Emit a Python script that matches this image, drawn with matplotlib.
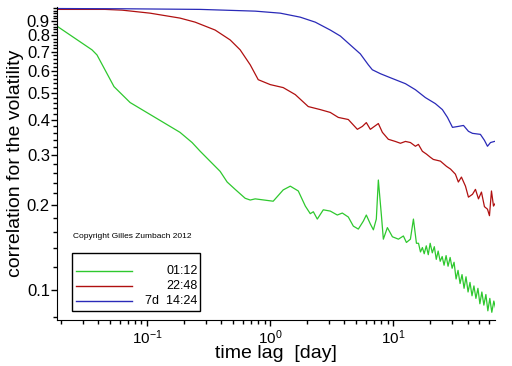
import numpy as np
import matplotlib
matplotlib.use("Agg")
import matplotlib.pyplot as plt
from matplotlib.ticker import FixedLocator, NullFormatter, LogLocator, FixedFormatter
from matplotlib.patches import Rectangle

plt.rcParams['font.family'] = ['Liberation Sans', 'DejaVu Sans']
plt.rcParams['mathtext.fontset'] = 'custom'
plt.rcParams['mathtext.rm'] = 'Liberation Sans'
plt.rcParams['mathtext.it'] = 'Liberation Sans'

# time lag in days / correlation
lag_green = [0.0185, 0.0357, 0.0392, 0.0539, 0.0728, 0.116, 0.185, 0.232, 0.270, 0.392,
             0.447, 0.519, 0.626, 0.688, 0.755, 1.057, 1.275, 1.455, 1.690, 1.927,
             2.114, 2.239, 2.411, 2.697, 3.075, 3.505, 3.849, 4.306, 4.731, 5.193,
             5.702, 6.03, 6.50, 6.88, 7.27, 7.55, 7.99, 8.29, 8.94, 9.82,
             10.99, 12.06, 12.76, 13.75, 14.55, 15.39,
             16.0, 16.6, 17.2, 17.8, 18.5, 19.2, 19.9, 20.7, 21.5, 22.3,
             23.1, 24.0, 24.9, 25.8, 26.8, 27.8, 28.9, 30.0, 31.1, 32.3,
             33.5, 34.8, 36.1, 37.5, 38.9, 40.4, 41.9, 43.5, 45.1, 46.8,
             48.6, 50.4, 52.3, 54.3, 56.4, 58.5, 60.7, 63.0, 65.4, 67.5]
corr_green = [0.864, 0.711, 0.682, 0.526, 0.462, 0.409, 0.362, 0.333, 0.310, 0.263,
              0.241, 0.227, 0.211, 0.208, 0.210, 0.206, 0.226, 0.233, 0.224, 0.198,
              0.186, 0.189, 0.178, 0.192, 0.190, 0.184, 0.187, 0.181, 0.168, 0.164,
              0.175, 0.184, 0.171, 0.163, 0.178, 0.245, 0.184, 0.151, 0.166, 0.154,
              0.151, 0.155, 0.147, 0.151, 0.178, 0.146,
              0.146, 0.136, 0.141, 0.134, 0.143, 0.133, 0.146, 0.135, 0.142, 0.128,
              0.137, 0.126, 0.131, 0.122, 0.132, 0.121, 0.130, 0.119, 0.125, 0.109,
              0.117, 0.105, 0.113, 0.101, 0.111, 0.098, 0.106, 0.095, 0.103, 0.093,
              0.101, 0.089, 0.098, 0.088, 0.096, 0.084, 0.093, 0.083, 0.091, 0.086]

lag_red = [0.0185, 0.0456, 0.0627, 0.1057, 0.185, 0.2455, 0.357, 0.473, 0.570, 0.688,
           0.799, 1.0, 1.275, 1.597, 2.036, 2.55, 3.075, 3.57, 4.306, 5.10,
           5.60, 6.03, 6.50, 7.01, 7.55, 8.14, 9.10, 10.37, 11.41, 12.53,
           13.75, 15.1, 15.97, 17.2, 18.55, 20.0, 21.1, 24.1, 27.0, 29.1,
           31.9, 33.7, 35.7, 38.5, 40.7, 43.9, 46.4, 49.1, 51.9, 54.9,
           58.1, 60.3, 62.6, 65.0, 67.5]
corr_red = [0.99, 0.99, 0.984, 0.960, 0.922, 0.892, 0.836, 0.771, 0.711, 0.629,
            0.557, 0.535, 0.522, 0.493, 0.447, 0.436, 0.426, 0.409, 0.402, 0.371,
            0.380, 0.392, 0.371, 0.380, 0.389, 0.362, 0.342, 0.336, 0.331, 0.336,
            0.333, 0.323, 0.328, 0.310, 0.303, 0.295, 0.290, 0.286, 0.274, 0.268,
            0.257, 0.241, 0.251, 0.233, 0.213, 0.218, 0.227, 0.210, 0.222, 0.197,
            0.193, 0.183, 0.224, 0.198, 0.203]

lag_blue = [0.0185, 0.0662, 0.270, 0.755, 1.206, 1.754, 2.32, 3.075, 3.71, 4.47,
            5.39, 6.26, 6.75, 7.84, 9.45, 12.53, 15.1, 18.2, 21.9, 25.0,
            27.5, 30.2, 33.7, 37.1, 40.7, 43.9, 50.9, 54.9, 58.1, 61.5, 66.2]
corr_blue = [0.997, 0.995, 0.99, 0.976, 0.960, 0.929, 0.892, 0.836, 0.796, 0.740,
             0.688, 0.629, 0.604, 0.585, 0.566, 0.539, 0.513, 0.481, 0.458, 0.436,
             0.409, 0.377, 0.380, 0.383, 0.365, 0.359, 0.356, 0.339, 0.323, 0.333, 0.336]

labels = ['01:12', '22:48', '7d  14:24']
colors = ['#2ec82e', '#b01010', '#2a2ab8']
yticks_major = [0.1, 0.2, 0.3, 0.4, 0.5, 0.6, 0.7, 0.8, 0.9]

fig = plt.figure(figsize=(5.12, 3.66), dpi=100)
ax = fig.add_axes([0.111, 0.126, 0.856, 0.855])

series = [(lag_green, corr_green), (lag_red, corr_red), (lag_blue, corr_blue)]
for (x, y), c in zip(series, colors):
    ax.plot(x, y, color=c, lw=0.9)

ax.set_xscale('log')
ax.set_yscale('log')
ax.set_xlim(0.0185, 67)
ax.set_ylim(0.078, 1.01)

ax.yaxis.set_major_locator(FixedLocator(yticks_major))
ax.yaxis.set_major_formatter(FixedFormatter([str(v) for v in yticks_major]))
ax.yaxis.set_minor_locator(FixedLocator(np.arange(0.08, 1.001, 0.02)))
ax.yaxis.set_minor_formatter(NullFormatter())
ax.xaxis.set_major_locator(LogLocator(base=10))
ax.xaxis.set_minor_locator(LogLocator(base=10, subs=np.arange(2, 10)))
ax.xaxis.set_minor_formatter(NullFormatter())

ax.spines['top'].set_visible(False)
ax.spines['right'].set_visible(False)
ax.tick_params(which='both', direction='out', width=1, color='black')
ax.tick_params(which='major', length=4)
ax.tick_params(which='minor', length=3)
ax.tick_params(axis='y', labelsize=12, pad=1)
ax.tick_params(axis='x', labelsize=11, pad=2)

ax.set_xlabel('time lag  [day]', fontsize=14, labelpad=-1)
ax.set_ylabel('correlation for the volatility', fontsize=14, labelpad=2)

ax.text(0.037, 0.268, 'Copyright Gilles Zumbach 2012', transform=ax.transAxes,
        fontsize=6, va='center', ha='left')

# legend drawn by hand so the labels stay right aligned
ax.add_patch(Rectangle((0.034, 0.029), 0.292, 0.185, transform=ax.transAxes,
                       fill=False, edgecolor='black', lw=1, zorder=5))
rows = [0.157, 0.109, 0.061]
for lab, c, yy in zip(labels, colors, rows):
    ax.plot([0.043, 0.171], [yy, yy], transform=ax.transAxes, color=c, lw=1, zorder=5)
    ax.text(0.321, yy, lab, transform=ax.transAxes, ha='right', va='center',
            fontsize=9, zorder=5)

fig.savefig('out.png', dpi=100)
